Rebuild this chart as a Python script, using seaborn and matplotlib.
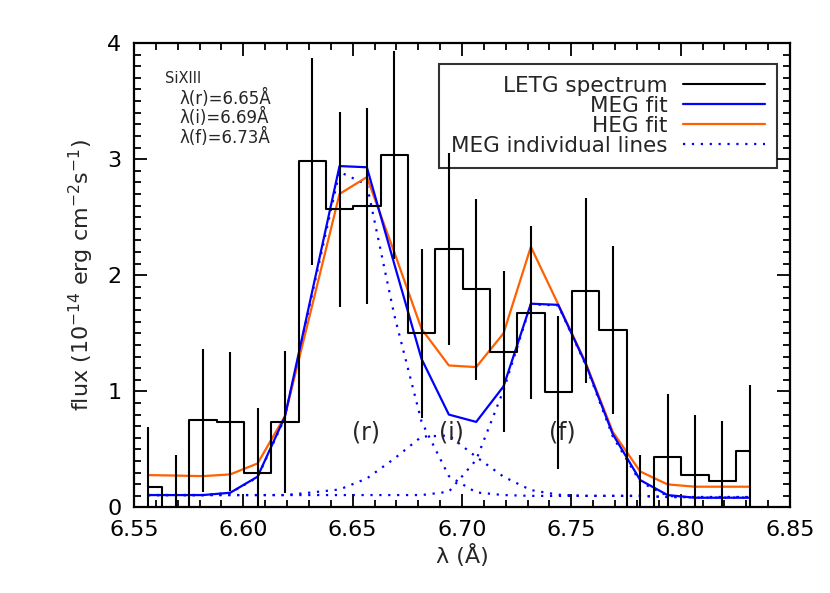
import seaborn as sns
import matplotlib.pyplot as plt
import numpy as np
from matplotlib.lines import Line2D
from matplotlib.ticker import MultipleLocator

# wavelength grid (Angstrom), 0.0125 A bins
wave = [6.5565, 6.5690, 6.5815, 6.5940, 6.6065, 6.6190, 6.6315, 6.6440,
        6.6565, 6.6690, 6.6815, 6.6940, 6.7065, 6.7190, 6.7315, 6.7440,
        6.7565, 6.7690, 6.7815, 6.7940, 6.8065, 6.8190, 6.8315]

# LETG spectrum and 1-sigma errors (1e-14 erg cm-2 s-1)
letg_flux = [0.18, -0.05, 0.75, 0.74, 0.30, 0.735, 2.98, 2.57, 2.595, 3.035, 1.50, 2.225,
             1.88, 1.343, 1.675, 0.993, 1.868, 1.53, -0.10, 0.435, 0.279, 0.227, 0.488]
letg_err = [0.51, 0.50, 0.615, 0.60, 0.56, 0.61, 0.895, 0.84, 0.845, 0.895, 0.73, 0.825,
            0.78, 0.69, 0.745, 0.66, 0.795, 0.722, 0.556, 0.545, 0.52, 0.515, 0.57]

# fits
meg_fit = [0.107, 0.107, 0.107, 0.127, 0.265, 0.78, 1.86, 2.94, 2.93, 2.10, 1.28, 0.80,
           0.737, 1.043, 1.755, 1.745, 1.24, 0.63, 0.236, 0.107, 0.084, 0.084, 0.084]
heg_fit = [0.279, 0.275, 0.27, 0.285, 0.379, 0.785, 1.74, 2.70, 2.845, 2.20, 1.538, 1.223,
           1.209, 1.50, 2.245, 1.75, 1.25, 0.65, 0.31, 0.199, 0.179, 0.179, 0.179]

# MEG individual lines (r, i, f)
line_r = [0.107, 0.107, 0.107, 0.125, 0.26, 0.77, 1.84, 2.89, 2.78, 1.66, 0.74, 0.27,
          0.13, 0.107, 0.10, 0.10, 0.10, 0.10, 0.10, 0.09, 0.09, 0.09, 0.09]
line_i = [0.107, 0.107, 0.107, 0.107, 0.107, 0.107, 0.13, 0.155, 0.25, 0.42, 0.61, 0.62,
          0.436, 0.265, 0.15, 0.11, 0.10, 0.10, 0.10, 0.09, 0.09, 0.09, 0.09]
line_f = [0.107, 0.107, 0.107, 0.107, 0.107, 0.107, 0.107, 0.107, 0.107, 0.107, 0.107, 0.136,
          0.41, 1.01, 1.75, 1.74, 1.23, 0.61, 0.22, 0.10, 0.085, 0.085, 0.085]

line_names = ["(r)", "(i)", "(f)"]
line_label_x = [6.6563, 6.6953, 6.7458]

BLUE = "#0000ff"
ORANGE = "#ff6000"

sns.set_style("ticks")
plt.rcParams['font.family'] = ['DejaVu Sans']
plt.rcParams['mathtext.default'] = 'regular'

fig = plt.figure(figsize=(8.3, 5.93), dpi=100)
ax = fig.add_axes([0.1614, 0.1442, 0.7904, 0.7833])

dot = (0, (1, 3))
for comp in [line_r, line_i, line_f]:
    sns.lineplot(x=wave, y=comp, ax=ax, color=BLUE, lw=1.6, linestyle=dot, estimator=None)
sns.lineplot(x=wave, y=heg_fit, ax=ax, color=ORANGE, lw=1.6, estimator=None)
sns.lineplot(x=wave, y=meg_fit, ax=ax, color=BLUE, lw=1.6, estimator=None)
sns.lineplot(x=wave, y=letg_flux, ax=ax, color="black", lw=1.5, drawstyle="steps-mid", estimator=None)
ax.errorbar(wave, letg_flux, yerr=letg_err, fmt="none", ecolor="black", elinewidth=1.5, capsize=0)

ax.set_xlim(6.55, 6.85)
ax.set_ylim(0, 4)
ax.xaxis.set_major_locator(MultipleLocator(0.05))
ax.xaxis.set_minor_locator(MultipleLocator(0.01))
ax.yaxis.set_major_locator(MultipleLocator(1))
ax.yaxis.set_minor_locator(MultipleLocator(0.1))
ax.xaxis.set_major_formatter(plt.FormatStrFormatter('%.2f'))
ax.tick_params(which="both", direction="in", top=True, right=True, width=1.3, labelsize=16, colors="black")
ax.tick_params(which="major", length=9.5, pad=9)
ax.tick_params(which="minor", length=4.8)
for s in ax.spines.values():
    s.set_linewidth(1.6)
    s.set_color("black")

ax.set_xlabel("λ (Å)", fontsize=16, labelpad=3)
ax.set_ylabel(r"flux (10$^{-14}$ erg cm$^{-2}$s$^{-1}$)", fontsize=16, labelpad=8)

for name, xp in zip(line_names, line_label_x):
    ax.text(xp, 0.65, name, fontsize=17, ha="center", va="center")

ax.text(6.5642, 3.695, "SiXIII", fontsize=10.5, ha="left", va="center")
ax.text(6.5707, 3.52, "λ(r)=6.65Å", fontsize=12, ha="left", va="center")
ax.text(6.5707, 3.355, "λ(i)=6.69Å", fontsize=12, ha="left", va="center")
ax.text(6.5707, 3.19, "λ(f)=6.73Å", fontsize=12, ha="left", va="center")

handles = [Line2D([], [], color="black", lw=1.5),
           Line2D([], [], color=BLUE, lw=1.6),
           Line2D([], [], color=ORANGE, lw=1.6),
           Line2D([], [], color=BLUE, lw=1.6, linestyle=dot)]
labels = ["LETG spectrum", "MEG fit", "HEG fit", "MEG individual lines"]
leg = ax.legend(handles, labels, loc="upper right", bbox_to_anchor=(777 / 830, 1 - 64 / 593),
                bbox_transform=fig.transFigure, borderaxespad=0, markerfirst=False,
                fontsize=15.5, handlelength=3.8, handletextpad=0.75, labelspacing=0.0,
                borderpad=0.55, fancybox=False, facecolor="none", edgecolor="black")
leg.get_frame().set_linewidth(1.5)

fig.savefig("out.png", dpi=100)
